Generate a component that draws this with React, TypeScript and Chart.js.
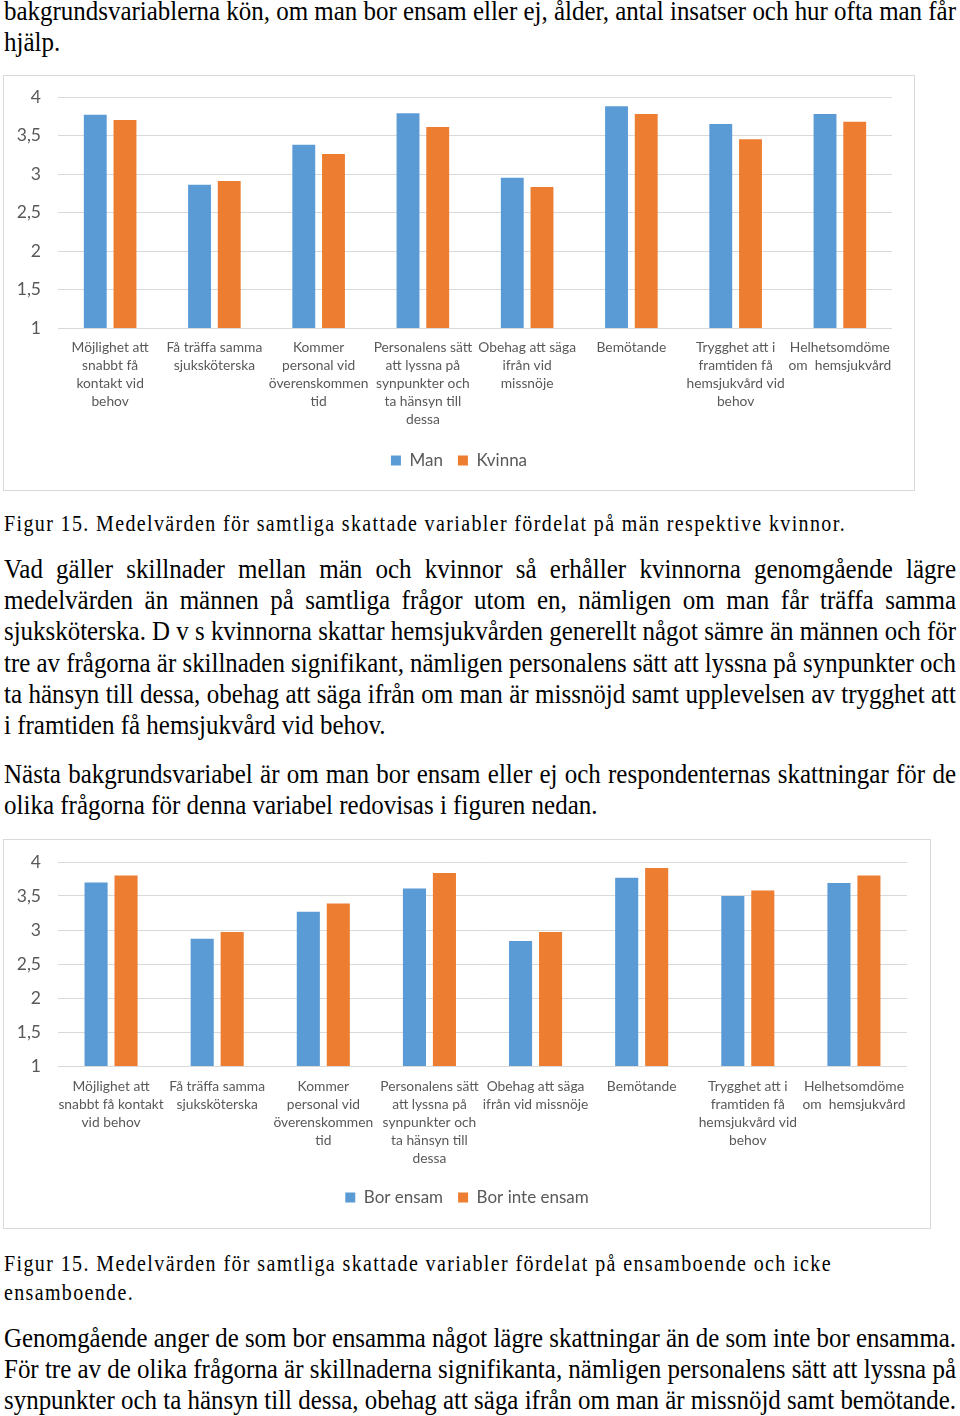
import React, { useEffect, useLayoutEffect, useRef } from "react";
import { Chart, registerables } from "chart.js";

Chart.register(...registerables);

// ---------- data ----------
const categories1: string[][] = [
  ["Möjlighet att", "snabbt få", "kontakt vid", "behov"],
  ["Få träffa samma", "sjuksköterska"],
  ["Kommer", "personal vid", "överenskommen", "tid"],
  ["Personalens sätt", "att lyssna på", "synpunkter och", "ta hänsyn till", "dessa"],
  ["Obehag att säga", "ifrån vid", "missnöje"],
  ["Bemötande"],
  ["Trygghet att i", "framtiden få", "hemsjukvård vid", "behov"],
  ["Helhetsomdöme", "om  hemsjukvård"],
];
const seriesNames1 = ["Man", "Kvinna"];
const man = [3.77, 2.86, 3.38, 3.79, 2.95, 3.88, 3.65, 3.78];
const kvinna = [3.7, 2.91, 3.26, 3.61, 2.83, 3.78, 3.45, 3.68];

const categories2: string[][] = [
  ["Möjlighet att", "snabbt få kontakt", "vid behov"],
  ["Få träffa samma", "sjuksköterska"],
  ["Kommer", "personal vid", "överenskommen", "tid"],
  ["Personalens sätt", "att lyssna på", "synpunkter och", "ta hänsyn till", "dessa"],
  ["Obehag att säga", "ifrån vid missnöje"],
  ["Bemötande"],
  ["Trygghet att i", "framtiden få", "hemsjukvård vid", "behov"],
  ["Helhetsomdöme", "om  hemsjukvård"],
];
const seriesNames2 = ["Bor ensam", "Bor inte ensam"];
const borEnsam = [3.7, 2.87, 3.27, 3.61, 2.84, 3.77, 3.5, 3.69];
const borInteEnsam = [3.8, 2.97, 3.39, 3.84, 2.97, 3.91, 3.58, 3.8];

const yMin = 1;
const yMax = 4;
const yStep = 0.5;

// ---------- text ----------
type Line = { text: string; base: number; size: number; width?: number; mode?: "justify" | "letter" };
const BODY = 25;
const CAP = 20;
const textLines: Line[] = [
  { text: "bakgrundsvariablerna kön, om man bor ensam eller ej, ålder, antal insatser och hur ofta man får", base: 20, size: BODY, width: 952, mode: "justify" },
  { text: "hjälp.", base: 51, size: BODY },
  { text: "Figur 15. Medelvärden för samtliga skattade variabler fördelat på män respektive kvinnor.", base: 531, size: CAP, width: 842, mode: "letter" },
  { text: "Vad gäller skillnader mellan män och kvinnor så erhåller kvinnorna genomgående lägre", base: 578, size: BODY, width: 952, mode: "justify" },
  { text: "medelvärden än männen på samtliga frågor utom en, nämligen om man får träffa samma", base: 609, size: BODY, width: 952, mode: "justify" },
  { text: "sjuksköterska. D v s kvinnorna skattar hemsjukvården generellt något sämre än männen och för", base: 640, size: BODY, width: 952, mode: "justify" },
  { text: "tre av frågorna är skillnaden signifikant, nämligen personalens sätt att lyssna på synpunkter och", base: 672, size: BODY, width: 952, mode: "justify" },
  { text: "ta hänsyn till dessa, obehag att säga ifrån om man är missnöjd samt upplevelsen av trygghet att", base: 703, size: BODY, width: 952, mode: "justify" },
  { text: "i framtiden få hemsjukvård vid behov.", base: 734, size: BODY },
  { text: "Nästa bakgrundsvariabel är om man bor ensam eller ej och respondenternas skattningar för de", base: 783, size: BODY, width: 952, mode: "justify" },
  { text: "olika frågorna för denna variabel redovisas i figuren nedan.", base: 814, size: BODY },
  { text: "Figur 15. Medelvärden för samtliga skattade variabler fördelat på ensamboende och icke", base: 1271, size: CAP, width: 828, mode: "letter" },
  { text: "ensamboende.", base: 1300, size: CAP, width: 130, mode: "letter" },
  { text: "Genomgående anger de som bor ensamma något lägre skattningar än de som inte bor ensamma.", base: 1347, size: BODY, width: 952, mode: "justify" },
  { text: "För tre av de olika frågorna är skillnaderna signifikanta, nämligen personalens sätt att lyssna på", base: 1378, size: BODY, width: 952, mode: "justify" },
  { text: "synpunkter och ta hänsyn till dessa, obehag att säga ifrån om man är missnöjd samt bemötande.", base: 1409, size: BODY, width: 952, mode: "justify" },
];

const SCALE_Y = 1.12;
const ASC = 0.8375;

function FitLine({ line }: { line: Line }) {
  const ref = useRef<HTMLSpanElement>(null);
  useLayoutEffect(() => {
    const el = ref.current;
    if (!el) return;
    let alive = true;
    const fit = () => {
      if (!alive || !line.width || !line.mode) return;
      el.style.wordSpacing = "0px";
      el.style.letterSpacing = "0px";
      el.style.transform = `scaleY(${SCALE_Y})`;
      const w = el.getBoundingClientRect().width;
      const delta = line.width - w;
      const spaces = line.text.split(" ").length - 1;
      if (line.mode === "justify") {
        if (delta >= 0 && spaces > 0) {
          el.style.wordSpacing = `${delta / spaces}px`;
        } else if (delta < 0) {
          el.style.transform = `scale(${line.width / w}, ${SCALE_Y})`;
        }
      } else {
        el.style.letterSpacing = `${delta / line.text.length}px`;
      }
    };
    fit();
    if ((document as any).fonts) (document as any).fonts.ready.then(fit);
    const t = setTimeout(fit, 200);
    return () => {
      alive = false;
      clearTimeout(t);
    };
  }, [line]);
  const top = line.base - ASC * line.size;
  return (
    <div
      style={{
        position: "absolute",
        left: 4,
        top,
        whiteSpace: "pre",
        fontFamily: '"Liberation Serif", "Times New Roman", serif',
        fontSize: line.size,
        lineHeight: `${line.size}px`,
        height: line.size,
        color: "#000",
      }}
    >
      <span
        ref={ref}
        style={{
          display: "inline-block",
          transform: `scaleY(${SCALE_Y})`,
          transformOrigin: `0 ${ASC * line.size}px`,
        }}
      >
        {line.text}
      </span>
    </div>
  );
}

// ---------- chart ----------
const BLUE = "#5B9BD5";
const ORANGE = "#ED7D31";
const TEXT = "#595959";
const GRID = "#D9D9D9";
const FONT = "Lato, 'Open Sans', sans-serif";

type Geom = {
  left: number;
  top: number;
  width: number;
  height: number;
  padTop: number;
  padRight: number;
  padBottom: number;
  xHeight: number;
  xPad: number;
  catPct: number;
};

function BarChart({
  labels,
  names,
  a,
  b,
  g,
}: {
  labels: string[][];
  names: string[];
  a: number[];
  b: number[];
  g: Geom;
}) {
  const ref = useRef<HTMLCanvasElement>(null);
  useEffect(() => {
    if (!ref.current) return;
    const chart = new Chart(ref.current, {
      type: "bar",
      data: {
        labels,
        datasets: [
          { label: names[0], data: a, backgroundColor: BLUE, categoryPercentage: g.catPct, barPercentage: 0.77, yAxisID: "y" },
          { label: names[1], data: b, backgroundColor: ORANGE, categoryPercentage: g.catPct, barPercentage: 0.77, yAxisID: "y" },
        ],
      },
      options: {
        animation: false,
        responsive: true,
        maintainAspectRatio: false,
        layout: { padding: { top: g.padTop, right: 0, bottom: g.padBottom, left: 0 } },
        plugins: {
          legend: {
            position: "bottom",
            labels: {
              boxWidth: 10,
              boxHeight: 10,
              padding: 15,
              color: TEXT,
              font: { family: FONT, size: 17 },
            },
          },
          tooltip: { enabled: false },
        },
        scales: {
          x: {
            grid: { display: false, drawTicks: false },
            border: { display: false },
            ticks: {
              color: TEXT,
              font: { family: FONT, size: 13.8, lineHeight: 18 / 13.8 },
              padding: g.xPad,
              autoSkip: false,
              maxRotation: 0,
              minRotation: 0,
            },
            afterFit: (s: any) => {
              s.height = g.xHeight;
            },
          },
          y: {
            min: yMin,
            max: yMax,
            grid: { color: GRID, lineWidth: 1, drawTicks: false },
            border: { display: false },
            ticks: {
              stepSize: yStep,
              padding: 17,
              color: TEXT,
              font: { family: FONT, size: 17.5 },
              callback: (v: any) => String(v).replace(".", ","),
            },
            afterFit: (s: any) => {
              s.width = 54;
              s.paddingTop = 0;
              s.paddingBottom = 0;
            },
          },
          yr: {
            type: "linear",
            position: "right",
            display: true,
            grid: { display: false, drawTicks: false },
            border: { display: false },
            ticks: { display: false },
            afterFit: (s: any) => {
              s.width = g.padRight;
              s.paddingTop = 0;
              s.paddingBottom = 0;
            },
          },
        },
      },
    });
    let alive = true;
    const fonts = (document as any).fonts;
    if (fonts) {
      Promise.all([fonts.load(`17px Lato`), fonts.load(`13px Lato`)]).then(() => {
        if (alive) chart.update();
      });
    }
    return () => {
      alive = false;
      chart.destroy();
    };
  }, []);
  return (
    <div
      style={{
        position: "absolute",
        left: g.left,
        top: g.top,
        width: g.width,
        height: g.height,
        border: `1px solid ${GRID}`,
        boxSizing: "border-box",
        background: "#fff",
      }}
    >
      <div style={{ position: "relative", width: "100%", height: "100%" }}>
        <canvas ref={ref} />
      </div>
    </div>
  );
}

const geom1: Geom = {
  left: 3,
  top: 75,
  width: 912,
  height: 416,
  padTop: 21,
  padRight: 22,
  padBottom: 11,
  xHeight: 109,
  xPad: 11,
  catPct: 0.57,
};
const geom2: Geom = {
  left: 3,
  top: 839,
  width: 928,
  height: 390,
  padTop: 22,
  padRight: 23,
  padBottom: 12,
  xHeight: 108,
  xPad: 12,
  catPct: 0.565,
};

export default function App() {
  return (
    <div
      style={{
        position: "absolute",
        left: 0,
        top: 0,
        width: 960,
        height: 1416,
        overflow: "hidden",
        background: "#fff",
      }}
    >
      {textLines.map((l, i) => (
        <FitLine key={i} line={l} />
      ))}
      <BarChart labels={categories1} names={seriesNames1} a={man} b={kvinna} g={geom1} />
      <BarChart labels={categories2} names={seriesNames2} a={borEnsam} b={borInteEnsam} g={geom2} />
    </div>
  );
}
